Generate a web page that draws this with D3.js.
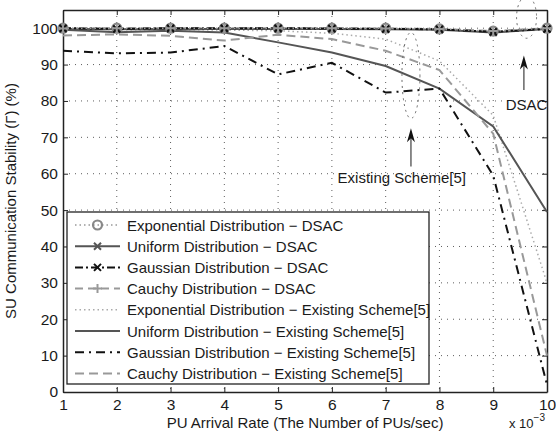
<!DOCTYPE html>
<html>
<head>
<meta charset="utf-8">
<script src="https://cdn.jsdelivr.net/npm/d3@7"></script>
<style>
  body { margin: 0; background: #fff; }
  text { font-family: "Liberation Sans", Arial, sans-serif; fill: #1a1a1a; }
</style>
</head>
<body>
<svg id="chart" width="556" height="432"></svg>
<script>
var rates = [1, 2, 3, 4, 5, 6, 7, 8, 9, 10]
var xTicks = [1, 2, 3, 4, 5, 6, 7, 8, 9, 10]
var yTicks = [0, 10, 20, 30, 40, 50, 60, 70, 80, 90, 100]

// DSAC curves
var expDsac = [100, 100, 100, 100, 100, 100, 100, 99.8, 99.2, 100]
var uniDsac = [99.8, 99.7, 99.8, 99.8, 99.8, 99.8, 99.7, 99.6, 98.8, 99.8]
var gauDsac = [100, 99.8, 100, 100, 100, 99.9, 99.8, 99.7, 99.0, 99.8]
var cauDsac = [99.9, 100, 100, 100, 100, 100, 99.9, 99.8, 99.2, 100]

// existing scheme curves
var expExist = [100, 99.6, 99.6, 99.5, 99.3, 98.6, 97, 91, 76, 30]
var uniExist = [99.6, 98.9, 99.3, 98.8, 96.1, 93.3, 89.6, 83.4, 73, 49.5]
var gauExist = [93.8, 93.1, 93.3, 95.1, 87.3, 90.5, 82.3, 83.4, 59.5, 2]
var cauExist = [98, 98.3, 97.9, 96.6, 98.2, 97, 93.8, 88.5, 71, 10]

var series = [
  {name: "Exponential Distribution \u2212 DSAC", values: expDsac, color: "#999", width: 1.5, dash: "1.5,3", marker: "o"},
  {name: "Uniform Distribution \u2212 DSAC", values: uniDsac, color: "#555", width: 2, dash: null, marker: "x"},
  {name: "Gaussian Distribution \u2212 DSAC", values: gauDsac, color: "#111", width: 2, dash: "8,3,2,3", marker: "x"},
  {name: "Cauchy Distribution \u2212 DSAC", values: cauDsac, color: "#999", width: 2, dash: "8,5", marker: "+"},
  {name: "Exponential Distribution \u2212 Existing Scheme[5]", values: expExist, color: "#aaa", width: 1.5, dash: "1.5,3", marker: null},
  {name: "Uniform Distribution \u2212 Existing Scheme[5]", values: uniExist, color: "#555", width: 2, dash: null, marker: null},
  {name: "Gaussian Distribution \u2212 Existing Scheme[5]", values: gauExist, color: "#111", width: 2, dash: "9,5,2,5", marker: null},
  {name: "Cauchy Distribution \u2212 Existing Scheme[5]", values: cauExist, color: "#999", width: 2, dash: "9,5", marker: null}
]

var margin = {top: 10, right: 9, bottom: 40, left: 63},
  width = 556 - margin.left - margin.right,
  height = 432 - margin.top - margin.bottom

var svg = d3.select("#chart")
var g = svg.append("g").attr("transform", "translate(" + margin.left + "," + margin.top + ")")

var x = d3.scaleLinear().domain([1, 10]).range([0, width])
var y = d3.scaleLinear().domain([0, 105]).range([height, 0])

// grid
g.append("g").selectAll("line").data(xTicks.slice(1, -1)).enter().append("line")
  .attr("x1", d => x(d)).attr("x2", d => x(d)).attr("y1", 0).attr("y2", height)
  .attr("stroke", "#333").attr("stroke-width", 0.8).attr("stroke-dasharray", "1,5")
g.append("g").selectAll("line").data(yTicks.slice(1)).enter().append("line")
  .attr("x1", 0).attr("x2", width).attr("y1", d => y(d)).attr("y2", d => y(d))
  .attr("stroke", "#333").attr("stroke-width", 0.8).attr("stroke-dasharray", "1,5")

// axes
var xAxis = g.append("g").attr("transform", "translate(0," + height + ")")
  .call(d3.axisBottom(x).tickValues(xTicks).tickSizeInner(-5).tickSizeOuter(0).tickPadding(7))
var yAxis = g.append("g")
  .call(d3.axisLeft(y).tickValues(yTicks).tickSizeInner(-5).tickSizeOuter(0).tickPadding(5))
g.append("g").call(d3.axisTop(x).tickValues(xTicks).tickSizeInner(-5).tickSizeOuter(0).tickFormat(""))
g.append("g").attr("transform", "translate(" + width + ",0)")
  .call(d3.axisRight(y).tickValues(yTicks).tickSizeInner(-5).tickSizeOuter(0).tickFormat(""))
g.selectAll(".domain").attr("stroke", "#222").attr("stroke-width", 1.5)
g.selectAll(".tick line").attr("stroke", "#222")
g.selectAll(".tick text").style("font-size", "15.5px").style("font-family", "Liberation Sans, Arial, sans-serif").attr("fill", "#1a1a1a")

var line = d3.line().x((d, i) => x(rates[i])).y(d => y(d))

// existing scheme lines first, DSAC on top
var order = [4, 5, 7, 6, 3, 1, 2, 0]
order.forEach(function(k) {
  var s = series[k]
  g.append("path").datum(s.values)
    .attr("d", line)
    .attr("fill", "none")
    .attr("stroke", s.color)
    .attr("stroke-width", s.width)
    .attr("stroke-dasharray", s.dash)
})

function drawMarker(sel, type, color, cx, cy) {
  if (type == "o") {
    sel.append("circle").attr("cx", cx).attr("cy", cy).attr("r", 4.5)
      .attr("fill", "none").attr("stroke", color).attr("stroke-width", 2.2)
  } else if (type == "x") {
    sel.append("path").attr("d", "M" + (cx - 3.5) + "," + (cy - 3.5) + "L" + (cx + 3.5) + "," + (cy + 3.5) +
      "M" + (cx - 3.5) + "," + (cy + 3.5) + "L" + (cx + 3.5) + "," + (cy - 3.5))
      .attr("stroke", color).attr("stroke-width", 2)
  } else if (type == "+") {
    sel.append("path").attr("d", "M" + (cx - 4.5) + "," + cy + "L" + (cx + 4.5) + "," + cy +
      "M" + cx + "," + (cy - 4.5) + "L" + cx + "," + (cy + 4.5))
      .attr("stroke", color).attr("stroke-width", 2)
  }
}

var markerOrder = [0, 1, 2, 3]
markerOrder.forEach(function(k) {
  var s = series[k]
  var mg = g.append("g")
  s.values.forEach(function(v, i) {
    drawMarker(mg, s.marker, k == 0 ? "#888" : s.color, x(rates[i]), y(v))
  })
})

// annotations
var ann = g.append("g")
ann.append("ellipse").attr("cx", x(7.47)).attr("cy", y(87)).attr("rx", 9).attr("ry", 43)
  .attr("fill", "none").attr("stroke", "#666").attr("stroke-width", 1).attr("stroke-dasharray", "2,4")
ann.append("ellipse").attr("cx", x(9.62)).attr("cy", y(103)).attr("rx", 10).attr("ry", 21)
  .attr("fill", "none").attr("stroke", "#666").attr("stroke-width", 1).attr("stroke-dasharray", "2,4")

function arrow(ax, yTip, yEnd) {
  ann.append("line").attr("x1", x(ax)).attr("x2", x(ax)).attr("y1", y(yTip) + 6).attr("y2", y(yEnd))
    .attr("stroke", "#666").attr("stroke-width", 1.5)
  ann.append("path")
    .attr("d", "M" + x(ax) + "," + y(yTip) + "L" + (x(ax) - 4) + "," + (y(yTip) + 14) +
      "L" + x(ax) + "," + (y(yTip) + 10) + "L" + (x(ax) + 4) + "," + (y(yTip) + 14) + "Z")
    .attr("fill", "#111")
}
arrow(7.47, 72.5, 62)
arrow(9.57, 92.5, 83)

ann.append("text").attr("x", x(7.3)).attr("y", y(57.5)).attr("text-anchor", "middle")
  .style("font-size", "15px").text("Existing Scheme[5]")
ann.append("text").attr("x", x(9.62)).attr("y", y(77.5)).attr("text-anchor", "middle")
  .style("font-size", "15px").text("DSAC")

// legend
var lg = svg.append("g").attr("transform", "translate(67,212)")
lg.append("rect").attr("width", 362).attr("height", 172)
  .attr("fill", "#fff").attr("stroke", "#222").attr("stroke-width", 1.3)
series.forEach(function(s, i) {
  var cy = 13 + i * 21.2
  lg.append("line").attr("x1", 8).attr("x2", 53).attr("y1", cy).attr("y2", cy)
    .attr("stroke", s.color).attr("stroke-width", s.width)
    .attr("stroke-dasharray", s.dash)
  if (s.marker) drawMarker(lg, s.marker, i == 0 ? "#888" : s.color, 30.5, cy)
  lg.append("text").attr("x", 60).attr("y", cy + 5.5).style("font-size", "15px").text(s.name)
})

// axis labels
svg.append("text").attr("x", 305).attr("y", 428).attr("text-anchor", "middle")
  .style("font-size", "15px").text("PU Arrival Rate (The Number of PUs/sec)")
svg.append("text").attr("transform", "translate(16," + (margin.top + height / 2) + ") rotate(-90)")
  .attr("text-anchor", "middle").style("font-size", "15px").text("SU Communication Stability (\u0393) (%)")
var ex = svg.append("text").attr("x", 509).attr("y", 428).style("font-size", "13px")
ex.append("tspan").text("x 10")
ex.append("tspan").attr("dy", -7).style("font-size", "10px").text("\u22123")
</script>
</body>
</html>
